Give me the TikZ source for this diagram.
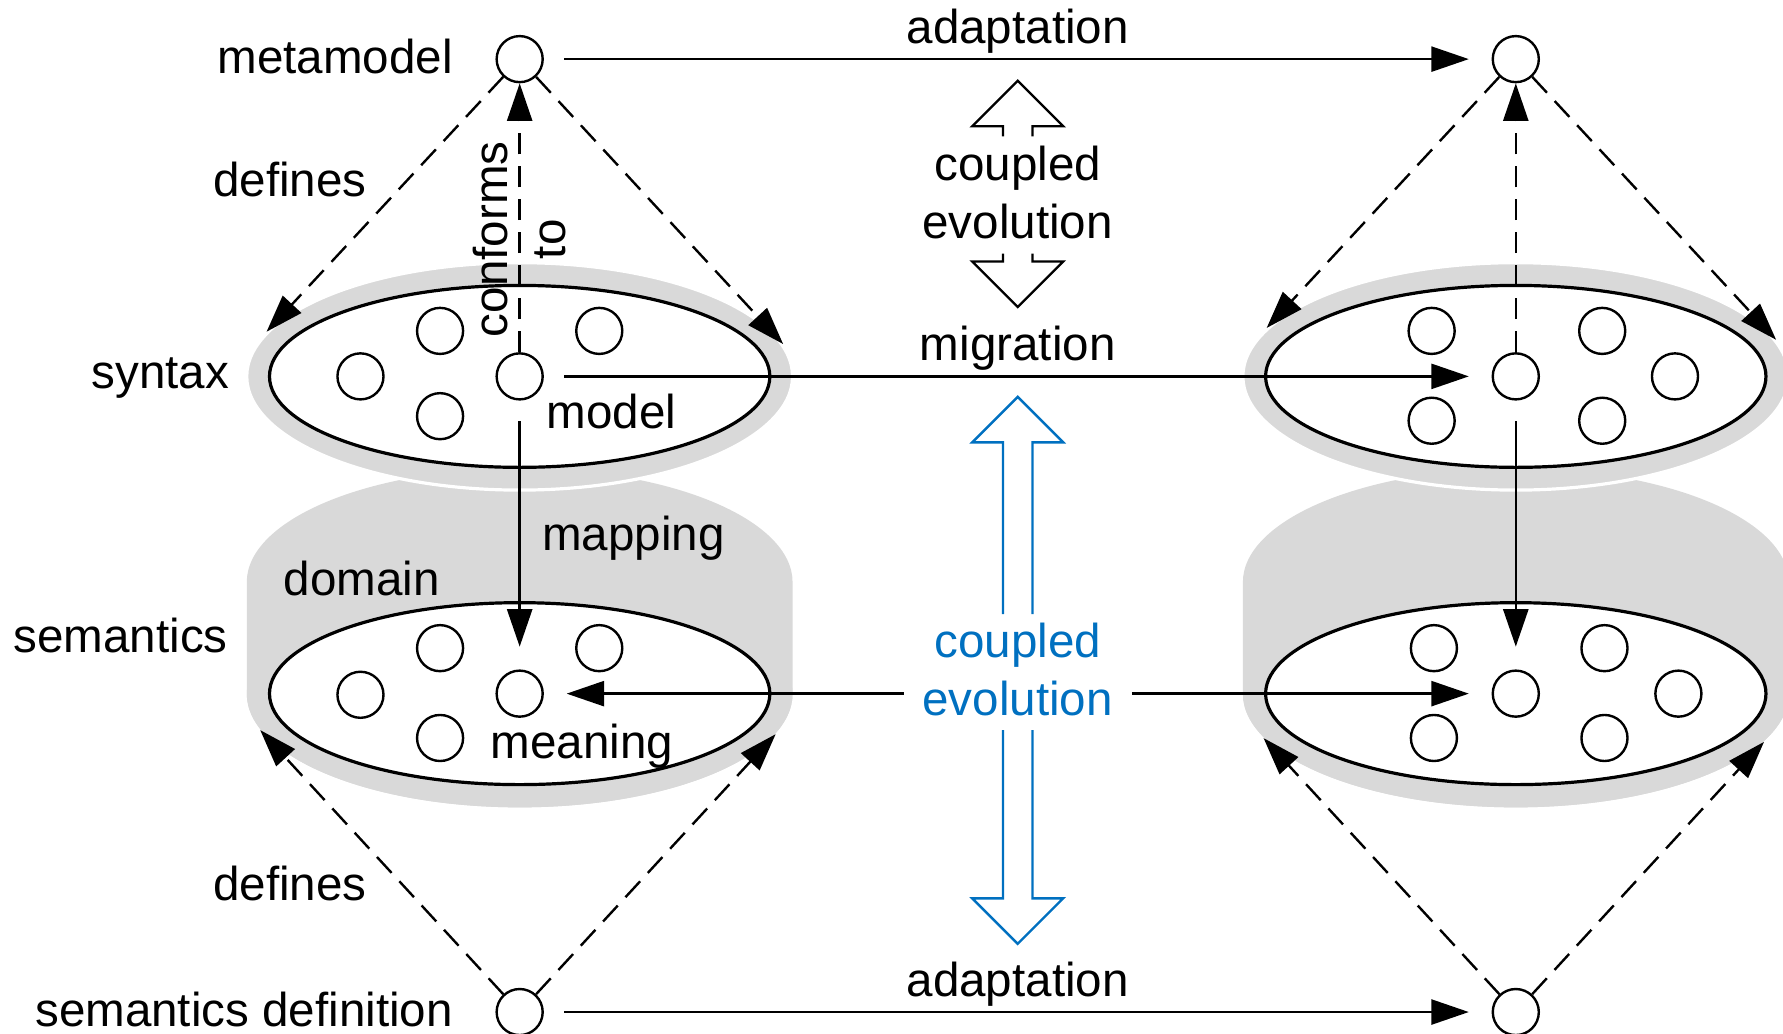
\documentclass[tikz,border=0pt]{standalone}
\usepackage{fontspec}
\setmainfont{Liberation Sans}
\usetikzlibrary{arrows.meta,shapes.geometric}

\definecolor{ringgray}{HTML}{D9D9D9}
\definecolor{evoblue}{HTML}{0070C0}

\tikzset{
    elem/.style={shape=circle, draw=black, line width=0.6pt, fill=white, minimum size=4.05mm, inner sep=0pt},
    ring/.style={shape=ellipse, fill=ringgray, minimum width=48mm, minimum height=20mm, inner sep=0pt},
    space/.style={shape=ellipse, draw=black, line width=0.8pt, fill=white, minimum width=44mm, minimum height=16mm, inner sep=0pt},
    lbl/.style={inner sep=0pt, font=\fontsize{11.9pt}{14.5pt}\selectfont},
    flow/.style={-{Triangle[length=3.3mm,width=2.2mm]}, line width=0.65pt, shorten >=2mm, shorten <=1.8mm},
    rel/.style={-{Triangle[length=3.3mm,width=2.2mm]}, line width=0.6pt, dash pattern=on 1.9mm off 1.0mm},
    hollow/.style={line width=0.6pt, line join=miter}
}

\begin{document}
\begin{tikzpicture}
    \useasboundingbox (0,0) rectangle (15.68,9.09);

    % Domain behind each semantics
    \foreach \cx in {4.57,13.33} {
        \fill[ringgray] (\cx-2.4,2.99) -- (\cx-2.4,3.97)
            arc[start angle=180, end angle=0, x radius=2.4, y radius=1.0]
            -- (\cx+2.4,2.99)
            arc[start angle=0, end angle=-180, x radius=2.4, y radius=1.0] -- cycle;
    }

    % Rings and spaces
    \node[ring] (semL) at (4.57,2.99) {};
    \node[ring] (semR) at (13.33,2.99) {};
    \node[ring, draw=white, line width=0.8pt] (synL) at (4.57,5.78) {};
    \node[ring, draw=white, line width=0.8pt] (synR) at (13.33,5.78) {};
    \node[space] (synLin) at (4.57,5.78) {};
    \node[space] (synRin) at (13.33,5.78) {};
    \node[space] (semLin) at (4.57,2.99) {};
    \node[space] (semRin) at (13.33,2.99) {};

    % Main elements
    \node[elem] (meta) at (4.57,8.57) {};
    \node[elem] (metaR) at (13.33,8.57) {};
    \node[elem] (model) at (4.57,5.78) {};
    \node[elem] (modelR) at (13.33,5.78) {};
    \node[elem] (meaning) at (4.57,2.99) {};
    \node[elem] (meaningR) at (13.33,2.99) {};
    \node[elem] (semdef) at (4.57,0.19) {};
    \node[elem] (semdefR) at (13.33,0.19) {};

    % Other elements
    \foreach \x/\y [count=\i] in {3.87/6.18, 5.27/6.18, 3.17/5.78, 3.87/5.43} {
        \node[elem] (synel\i) at (\x,\y) {};
    }
    \foreach \x/\y [count=\i] in {3.87/3.39, 5.27/3.39, 3.17/2.98, 3.87/2.60} {
        \node[elem] (semel\i) at (\x,\y) {};
    }
    \foreach \x/\y [count=\i] in {12.59/6.18, 14.09/6.18, 14.73/5.78, 12.59/5.39, 14.09/5.39} {
        \node[elem] (synelR\i) at (\x,\y) {};
    }
    \foreach \x/\y [count=\i] in {12.61/3.39, 14.11/3.39, 14.76/2.99, 12.61/2.60, 14.11/2.60} {
        \node[elem] (semelR\i) at (\x,\y) {};
    }

    % Labels
    \node[lbl, anchor=base east] (lmeta) at (3.99,8.44) {metamodel};
    \node[lbl, anchor=base east] (ldefTop) at (3.23,7.36) {defines};
    \node[lbl, anchor=base east] (lsyn) at (2.02,5.67) {syntax};
    \node[lbl, anchor=base east] (lsem) at (2.01,3.35) {semantics};
    \node[lbl, anchor=base east] (ldefBot) at (3.23,1.17) {defines};
    \node[lbl, anchor=base east] (lsemdef) at (3.99,0.06) {semantics definition};
    \node[lbl, anchor=base west] (lmodel) at (4.80,5.32) {model};
    \node[lbl, anchor=base west] (lmapping) at (4.76,4.25) {mapping};
    \node[lbl, anchor=base west] (ldomain) at (2.49,3.85) {domain};
    \node[lbl, anchor=base west] (lmeaning) at (4.31,2.42) {meaning};
    \node[lbl, align=center] (evoTop) at (8.95,7.40) {coupled\\evolution};
    \node[lbl, align=center, text=evoblue, inner sep=1.6mm] (evo) at (8.95,3.20) {coupled\\evolution};

    % Hollow arrows
    \draw[hollow] (8.82,7.89) -- (8.82,7.98) -- (8.55,7.98) -- (8.95,8.38) -- (9.35,7.98) -- (9.08,7.98) -- (9.08,7.89);
    \draw[hollow] (8.82,6.86) -- (8.82,6.79) -- (8.55,6.79) -- (8.95,6.39) -- (9.35,6.79) -- (9.08,6.79) -- (9.08,6.86);
    \draw[hollow, evoblue] (8.82,3.69) -- (8.82,5.20) -- (8.55,5.20) -- (8.95,5.60) -- (9.35,5.20) -- (9.08,5.20) -- (9.08,3.69);
    \draw[hollow, evoblue] (8.82,2.67) -- (8.82,1.19) -- (8.55,1.19) -- (8.95,0.79) -- (9.35,1.19) -- (9.08,1.19) -- (9.08,2.67);

    % Solid arrows
    \draw[flow] (meta) -- node[lbl, above=0.4mm] (ladaptTop) {adaptation} (metaR);
    \draw[flow] (model) -- node[lbl, above=0.4mm] (lmigration) {migration} (modelR);
    \draw[flow] (semdef) -- node[lbl, above=0.4mm] (ladaptBot) {adaptation} (semdefR);
    \draw[flow] (model) -- (meaning);
    \draw[flow] (modelR) -- (meaningR);
    \draw[flow, shorten <=0pt] (evo.west |- meaning) -- (meaning);
    \draw[flow, shorten <=0pt] (evo.east |- meaning) -- (meaningR);

    % Dashed arrows
    \draw[rel] (model) -- node[lbl, pos=0.42, rotate=90, align=center] (lconf) {conforms\\to} (meta);
    \draw[rel] (modelR) -- (metaR);
    \draw[rel] (meta) -- (synL.170);
    \draw[rel] (meta) -- (synL.7);
    \draw[rel] (metaR) -- (synR.169);
    \draw[rel] (metaR) -- (synR.8);
    \draw[rel] (semdef) -- (semL.-172);
    \draw[rel] (semdef) -- (semL.-9);
    \draw[rel] (semdefR) -- (semR.-170);
    \draw[rel] (semdefR) -- (semR.-11);
\end{tikzpicture}
\end{document}
